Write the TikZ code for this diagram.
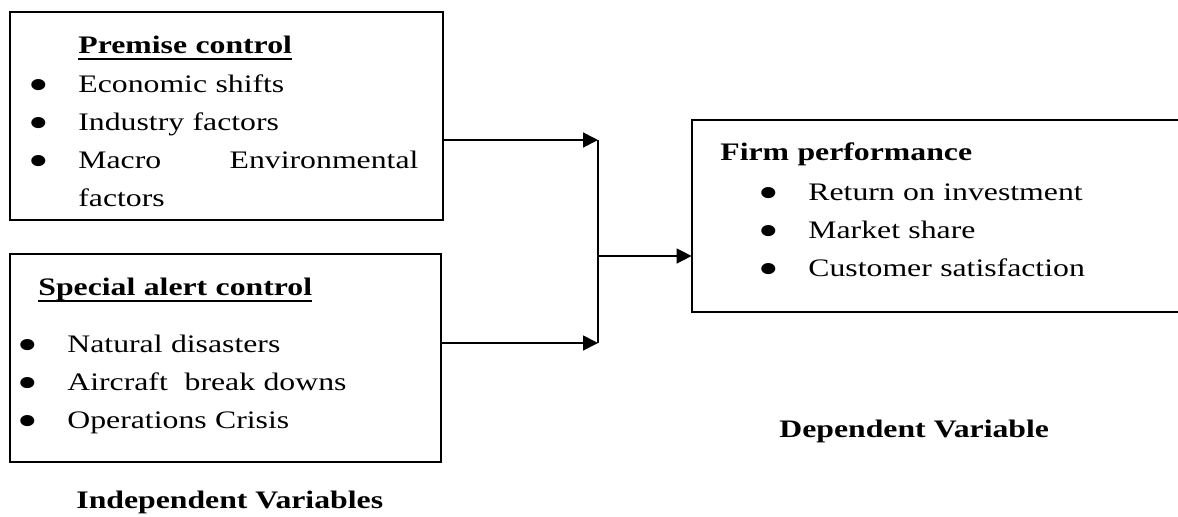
\documentclass[tikz,border=0pt]{standalone}
\usepackage{fontspec}
\setmainfont{Liberation Serif}[FakeStretch=1.26]
\usetikzlibrary{arrows.meta}

\newcommand{\hdline}[1]{\setbox0\hbox{\textbf{#1}}\rlap{\rule[-3.6pt]{\wd0}{1.2pt}}\box0}
\newcommand{\bul}{\leavevmode\llap{\raisebox{-4pt}{\scalebox{1.85}{\textbullet}}\hspace{14.5pt}}}

\begin{document}
\begin{tikzpicture}[x=0.5pt,y=-0.5pt,font=\fontsize{12.6pt}{19pt}\selectfont,
  box/.style={draw,line width=1pt},
  txt/.style={anchor=base west,inner sep=0pt,align=left},
  arr/.style={-{Triangle[length=7.5pt,width=7.5pt]},line width=0.8pt}]
\useasboundingbox (0,0) rectangle (1178,516);
\node (premise) at (226.5,116) [box,minimum width=216.5pt,minimum height=104pt] {};
\node (special) at (225.5,358) [box,minimum width=215.5pt,minimum height=104pt] {};
\node (firm) at (935,216) [minimum width=243pt,minimum height=96pt] {};
\draw[box] (firm.north east) -- (firm.north west) -- (firm.south west) -- (firm.south east);
\node (premisetxt) at (78,53) [txt,text width=170pt] {\hdline{Premise control}\\[0.5pt]
  \bul Economic shifts\\
  \bul Industry factors\\
  \bul\makebox[170pt][l]{Macro\hfill Environmental}\\
  factors};
\node (specialtxt) at (38,295) [txt,text width=190pt] {\hdline{Special alert control}\\[9.5pt]
  \hspace*{14.5pt}\bul Natural disasters\\
  \hspace*{14.5pt}\bul Aircraft\ \ break downs\\
  \hspace*{14.5pt}\bul Operations Crisis};
\node (firmtxt) at (720,160) [txt,text width=220pt] {\textbf{Firm performance}\\[1pt]
  \hspace*{44pt}\bul Return on investment\\
  \hspace*{44pt}\bul Market share\\
  \hspace*{44pt}\bul Customer satisfaction};
\node (indep) at (76,508) [txt] {\textbf{Independent Variables}};
\node (dep) at (779,437) [txt] {\textbf{Dependent Variable}};
\coordinate (top) at (598,140);
\coordinate (bot) at (598,343);
\coordinate (mid) at (598,256);
\draw[arr] (premise.east |- top) -- (top);
\draw[arr] (special.east |- bot) -- (bot);
\draw[line width=0.8pt] (top) -- (bot);
\draw[arr] (mid) -- (firm.west |- mid);
\end{tikzpicture}
\end{document}
